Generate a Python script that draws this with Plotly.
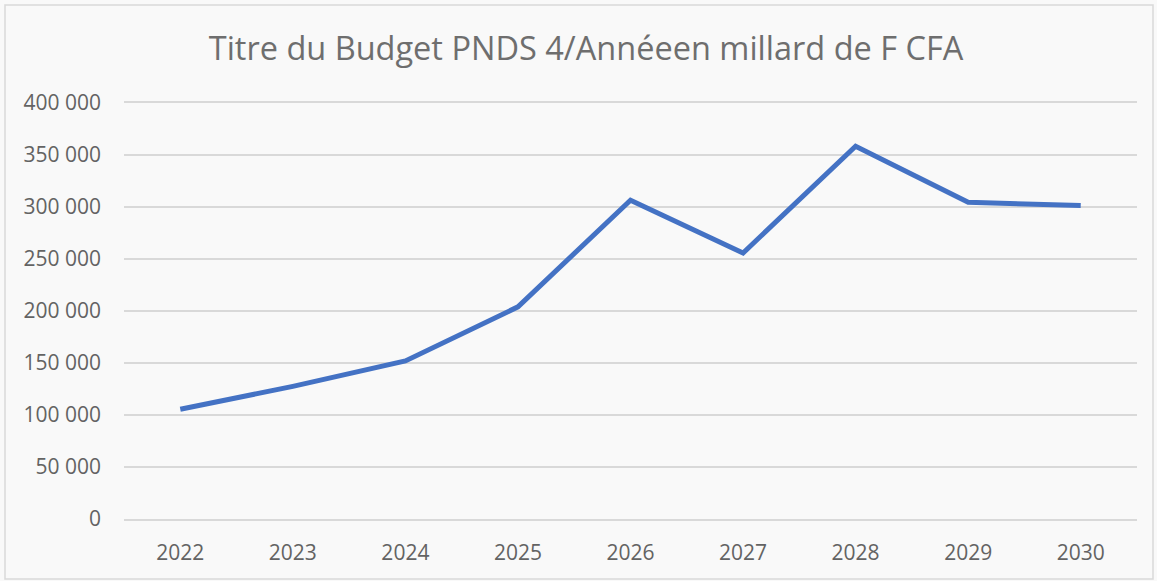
import plotly.graph_objects as go

years = ["2022", "2023", "2024", "2025", "2026", "2027", "2028", "2029", "2030"]
budget = [105500, 127500, 152000, 204000, 306500, 255800, 358500, 304500, 301500]
y_ticks = [0, 50000, 100000, 150000, 200000, 250000, 300000, 350000, 400000]
title_text = "Titre du Budget PNDS 4/Annéeen millard de F CFA"

W, H = 1157, 581
L, R, T, B = 124, 20, 103, 62
TEXT = "#636363"
TITLE = "#6e6e6e"
GRID = "#d9d9d9"
BG = "#f9f9f9"
PW, PH = W - L - R, H - T - B

fig = go.Figure()
fig.add_trace(go.Scatter(
    x=years, y=budget, mode="lines",
    line=dict(color="#4472c4", width=5),
    hoverinfo="x+y", showlegend=False,
))

fig.update_layout(
    width=W, height=H,
    margin=dict(l=L, r=R, t=T, b=B, pad=0),
    paper_bgcolor=BG, plot_bgcolor=BG,
    separators=", ",
    font=dict(family="Open Sans", color=TEXT, size=21),
    title=dict(text=title_text, x=586 / W, xref="container", xanchor="center",
               y=1 - 49 / H, yref="container", yanchor="middle",
               font=dict(family="Open Sans", size=32.5, color=TITLE)),
    xaxis=dict(type="category", range=[-0.5, len(years) - 0.5],
               showgrid=False, zeroline=False,
               showline=True, mirror=True, linecolor=GRID, linewidth=2,
               ticks="", ticklabelstandoff=14,
               tickfont=dict(size=21, color=TEXT)),
    yaxis=dict(range=[0, 400000], tickvals=y_ticks, tickformat=",d",
               showgrid=True, gridcolor=GRID, gridwidth=2,
               zeroline=False, showline=False, ticks="",
               ticklabelstandoff=22,
               tickfont=dict(size=21, color=TEXT)),
    shapes=[dict(type="rect", xref="paper", yref="paper",
                 x0=(5 - L) / PW, x1=(W - 4 - L) / PW,
                 y0=-(B - 2) / PH, y1=1 + (T - 5) / PH,
                 line=dict(color=GRID, width=1.5), fillcolor="rgba(0,0,0,0)",
                 layer="below")],
)

fig.write_html("out.html",
               config={"displayModeBar": False},
               post_script="document.body.style.margin='0px';document.body.style.padding='0px';")
